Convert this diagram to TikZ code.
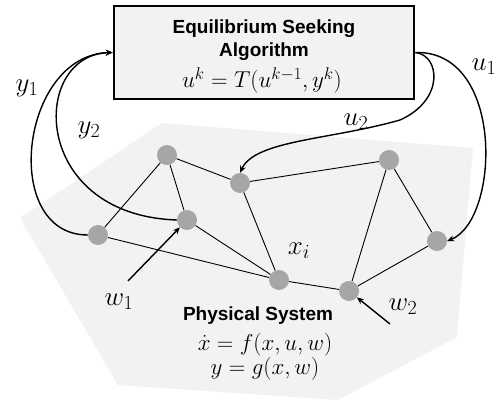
\RequirePackage{fix-cm}
\documentclass[tikz,border=0pt]{standalone}
\usepackage{fontspec}
\newfontfamily\hvfont{Liberation Sans}
\DeclareMathSizes{23}{23}{17}{13}
\DeclareMathSizes{27}{27}{20}{15}
\usetikzlibrary{arrows.meta}
\definecolor{regiongray}{HTML}{F2F2F2}
\definecolor{dotgray}{HTML}{A6A6A6}
\tikzset{
  dotnode/.style={circle, fill=dotgray, draw=none, minimum size=20pt, inner sep=0pt},
  edgeline/.style={line width=0.9pt, black},
  feedback/.style={line width=1.4pt, black, -{Stealth[length=7pt,width=6pt]}},
  disturb/.style={line width=1.4pt, black, -{Stealth[length=7pt,width=6pt]}},
  formula/.style={font=\fontsize{23}{27}\selectfont, inner sep=0pt, anchor=base},
  mathlabel/.style={font=\fontsize{27}{31}\selectfont, inner sep=0pt},
  titletext/.style={font=\hvfont\bfseries\fontsize{19}{22}\selectfont, inner sep=0pt, anchor=base}
}
\begin{document}
\begin{tikzpicture}[x=1pt,y=-1pt]
\useasboundingbox (0,0) rectangle (503,403);
% physical region
\fill[regiongray] (162,123) -- (473,148) -- (457,337) -- (338,400) -- (118,385) -- (20,218) -- cycle;
% algorithm box
\node[draw, line width=2.6pt, fill=regiongray, minimum width=300pt, minimum height=93pt, inner sep=0pt] (esa) at (264,52.5) {};
\node[titletext] (esa1) at (264,34) {Equilibrium Seeking};
\node[titletext] (esa2) at (264,57) {Algorithm};
\node[formula] (esa3) at (262,88) {$u^k = T(u^{k-1}, y^k)$};
% graph nodes
\node[dotnode] (A) at (167,155) {};
\node[dotnode] (B) at (240,183) {};
\node[dotnode] (C) at (389,160) {};
\node[dotnode] (D) at (98,235) {};
\node[dotnode] (E) at (187,220) {};
\node[dotnode] (F) at (279,280) {};
\node[dotnode] (G) at (349,291) {};
\node[dotnode] (H) at (437,241) {};
\draw[edgeline] (A) -- (D);
\draw[edgeline] (A) -- (E);
\draw[edgeline] (A) -- (B);
\draw[edgeline] (B) -- (C);
\draw[edgeline] (B) -- (F);
\draw[edgeline] (C) -- (G);
\draw[edgeline] (C) -- (H);
\draw[edgeline] (D) -- (F);
\draw[edgeline] (E) -- (F);
\draw[edgeline] (F) -- (G);
\draw[edgeline] (G) -- (H);
% feedback curves
\draw[feedback] (D.west) .. controls (0,235) and (20,55) .. (esa.west);
\draw[feedback] (E.west) .. controls (30,215) and (30,55) .. (esa.west);
\draw[feedback] (esa.east) .. controls (505,50) and (500,220) .. (H.east);
\draw[feedback] (esa.east) .. controls (440,55) and (445,100) .. (400,120) .. controls (330,140) and (255,140) .. (B.north);
% disturbances
\coordinate (w1tail) at (128,281);
\coordinate (w2tail) at (390,324);
\draw[disturb] (w1tail) -- (E);
\draw[disturb] (w2tail) -- (G);
% labels
\node[mathlabel] (ly1) at (27,88) {$y_1$};
\node[mathlabel] (ly2) at (89,130) {$y_2$};
\node[mathlabel] (lu1) at (484,67) {$u_1$};
\node[mathlabel] (lu2) at (356,122) {$u_2$};
\node[mathlabel] (lw1) at (119,302) {$w_1$};
\node[mathlabel] (lw2) at (403,307) {$w_2$};
\node[mathlabel] (lxi) at (299,251) {$x_i$};
% physical system text
\node[titletext] (ps1) at (258,320) {Physical System};
\node[formula] (ps2) at (265,350) {$\dot{x} = f(x,u,w)$};
\node[formula] (ps3) at (265,374) {$y = g(x,w)$};
\end{tikzpicture}
\end{document}
